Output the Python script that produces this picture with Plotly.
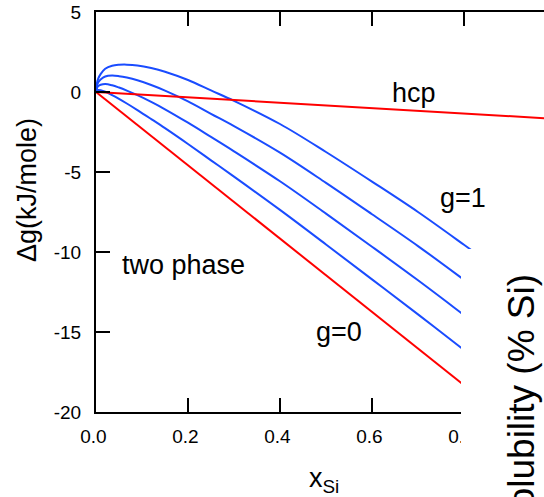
import plotly.graph_objects as go

# composition grid used for the curves
x_si = [0, 0.002, 0.005, 0.01, 0.02, 0.035, 0.05, 0.067, 0.09, 0.12,
        0.15, 0.2, 0.25, 0.3, 0.4, 0.5, 0.6, 0.7, 0.8, 0.85]

# blue family, top (g=1) to bottom
dg_g100 = [0, 0.55, 0.85, 1.12, 1.45, 1.64, 1.70, 1.71, 1.66, 1.50,
           1.27, 0.75, 0.10, -0.55, -2.00, -3.75, -5.60, -7.50, -9.55, -10.60]
dg_g075 = [0, 0.40, 0.61, 0.78, 0.97, 1.03, 0.99, 0.90, 0.73, 0.44,
           0.09, -0.58, -1.36, -2.13, -3.79, -5.68, -7.64, -9.63, -11.74, -12.82]
dg_g050 = [0, 0.25, 0.37, 0.45, 0.50, 0.42, 0.28, 0.09, -0.20, -0.62,
           -1.08, -1.92, -2.81, -3.71, -5.58, -7.60, -9.67, -11.77, -13.94, -15.03]
dg_g025 = [0, 0.10, 0.13, 0.11, 0.02, -0.19, -0.43, -0.72, -1.13, -1.69,
           -2.26, -3.25, -4.27, -5.29, -7.37, -9.53, -11.71, -13.90, -16.13, -17.25]

# red lines
x_g0 = [0, 0.85]
dg_g0 = [0, -19.47]
x_hcp = [0, 1.0]
dg_hcp = [0, -1.68]

x_ticks = [0, 0.2, 0.4, 0.6, 0.8]
# trailing no-break space nudges the labels a little left, as in the original
x_ticktext = [t + "\u00a0" for t in ["0.0", "0.2", "0.4", "0.6", "0.8"]]
y_ticks = [-20, -15, -10, -5, 0, 5]
y_ticktext = ["-20", "-15", "-10", "-5", "0", "5"]

BLUE = "#1a4cff"
RED = "#ff0000"
FONT = "Liberation Sans, Arial, sans-serif"

fig = go.Figure()
for dg in [dg_g100, dg_g075, dg_g050, dg_g025]:
    fig.add_trace(go.Scatter(x=x_si, y=dg, mode="lines",
                             line=dict(color=BLUE, width=2, shape="spline")))
fig.add_trace(go.Scatter(x=x_g0, y=dg_g0, mode="lines", line=dict(color=RED, width=2)))
fig.add_trace(go.Scatter(x=x_hcp, y=dg_hcp, mode="lines", line=dict(color=RED, width=2)))

fig.update_layout(
    width=544, height=497,
    margin=dict(l=96, r=0, t=12, b=85),
    paper_bgcolor="white", plot_bgcolor="white",
    showlegend=False,
    font=dict(family=FONT, size=19, color="black"),
    xaxis=dict(range=[0, 448 / 460], tickvals=x_ticks, ticktext=x_ticktext,
               ticks="inside", ticklen=14, tickwidth=2, tickcolor="black",
               showline=True, linewidth=2, linecolor="black", mirror="ticks",
               showgrid=False, zeroline=False, ticklabelstandoff=6),
    yaxis=dict(range=[-20, 5], tickvals=y_ticks, ticktext=y_ticktext,
               ticks="inside", ticklen=14, tickwidth=2, tickcolor="black",
               showline=True, linewidth=2, linecolor="black",
               showgrid=False, zeroline=False, ticklabelstandoff=9),
    yaxis2=dict(range=[-20, 5], tickvals=y_ticks, overlaying="y", side="right",
                anchor="x", ticks="inside", ticklen=4, tickwidth=2, tickcolor="black",
                showline=False, showticklabels=False, showgrid=False, zeroline=False),
)

# part of a neighbouring panel covers the right side
fig.add_shape(type="rect", xref="paper", yref="paper",
              x0=(461 - 96) / 448, x1=1.05, y0=-0.3, y1=(412 - 249) / 400,
              fillcolor="white", line=dict(width=0), layer="above")

big = dict(family=FONT, size=27, color="black")
labels = [("hcp", 0.691, -0.06), ("g=1", 0.797, -6.63),
          ("g=0", 0.529, -15.0), ("two phase", 0.191, -10.81)]
for text, xv, yv in labels:
    fig.add_annotation(x=xv, y=yv, text=text, showarrow=False, font=big)

centre = dict(xref="paper", yref="paper", xanchor="center", yanchor="middle",
              showarrow=False)
fig.add_annotation(x=(27 - 96) / 448, y=(412 - 190) / 400,
                   text="\u0394g(kJ/mole)", textangle=-90, font=big, **centre)
fig.add_annotation(x=(324 - 96) / 448, y=(412 - 480) / 400,
                   text="x<sub>Si</sub>", font=big, **centre)
fig.add_annotation(x=(521 - 96) / 448, y=(412 - 404) / 400,
                   text="Solubility (% Si)", textangle=-90,
                   font=dict(family=FONT, size=37, color="black"), **centre)

fig.write_html("out.html", config={"displayModeBar": False},
               post_script="document.body.style.margin='0px';")
